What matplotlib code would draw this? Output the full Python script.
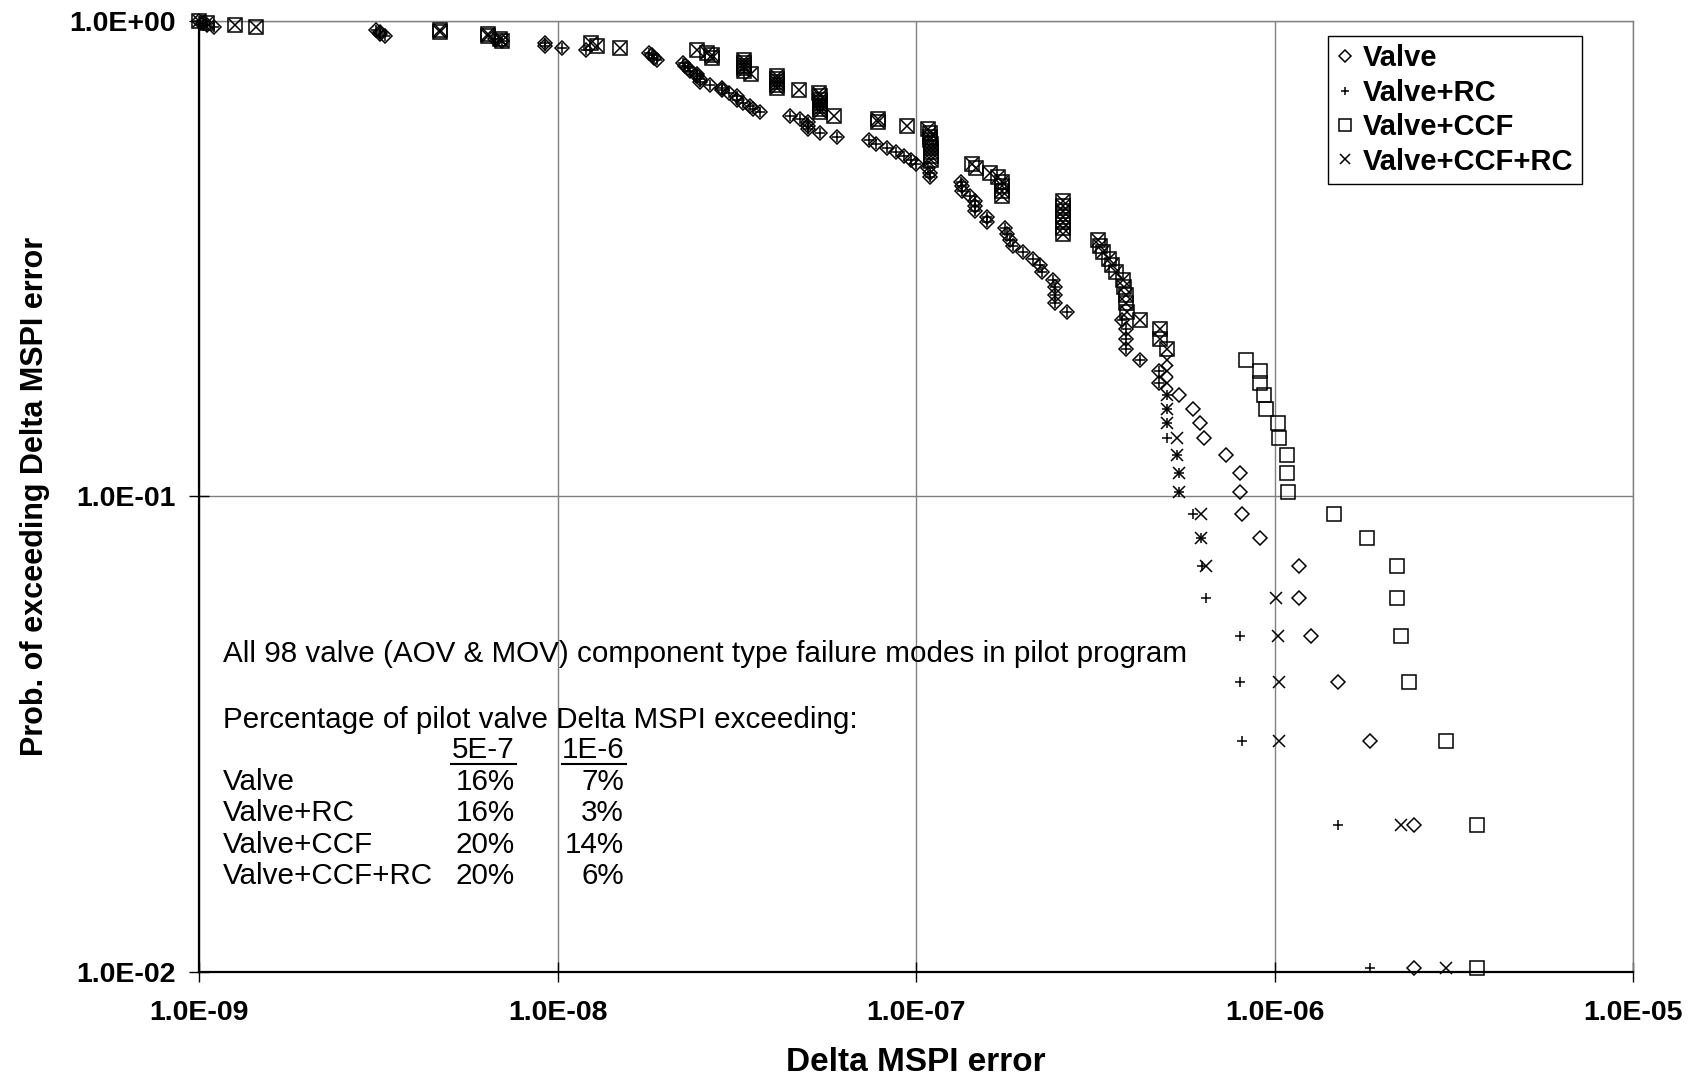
import numpy as np
import matplotlib
matplotlib.use('Agg')
import matplotlib.pyplot as plt
from matplotlib.ticker import NullLocator

plt.rcParams['font.family'] = ['Liberation Sans', 'DejaVu Sans']

# exceedance probability of each ranked point (rank 1 = largest error)
exceed_prob = [
    0.0102, 0.0204, 0.0306, 0.0408, 0.0510, 0.0612, 0.0714, 0.0816, 0.0918, 0.1020,
    0.1122, 0.1224, 0.1327, 0.1429, 0.1531, 0.1633, 0.1735, 0.1837, 0.1939, 0.2041,
    0.2143, 0.2245, 0.2347, 0.2449, 0.2551, 0.2653, 0.2755, 0.2857, 0.2959, 0.3061,
    0.3163, 0.3265, 0.3367, 0.3469, 0.3571, 0.3673, 0.3776, 0.3878, 0.3980, 0.4082,
    0.4184, 0.4286, 0.4388, 0.4490, 0.4592, 0.4694, 0.4796, 0.4898, 0.5000, 0.5102,
    0.5204, 0.5306, 0.5408, 0.5510, 0.5612, 0.5714, 0.5816, 0.5918, 0.6020, 0.6122,
    0.6224, 0.6327, 0.6429, 0.6531, 0.6633, 0.6735, 0.6837, 0.6939, 0.7041, 0.7143,
    0.7245, 0.7347, 0.7449, 0.7551, 0.7653, 0.7755, 0.7857, 0.7959, 0.8061, 0.8163,
    0.8265, 0.8367, 0.8469, 0.8571, 0.8673, 0.8776, 0.8878, 0.8980, 0.9082, 0.9184,
    0.9286, 0.9388, 0.9490, 0.9592, 0.9694, 0.9796, 0.9898, 1.0000]

# Delta MSPI error per rank
valve_x = [
    2.45e-6, 2.45e-6, 1.85e-6, 1.50e-6, 1.26e-6, 1.17e-6, 1.17e-6, 9.1e-7, 8.1e-7, 8.0e-7,
    8.0e-7, 7.3e-7, 6.35e-7, 6.2e-7, 5.9e-7, 5.4e-7, 4.75e-7, 4.75e-7, 4.2e-7, 3.84e-7,
    3.84e-7, 3.84e-7, 3.76e-7, 2.63e-7, 2.44e-7, 2.44e-7, 2.44e-7, 2.41e-7, 2.24e-7, 2.21e-7,
    2.12e-7, 1.99e-7, 1.86e-7, 1.83e-7, 1.79e-7, 1.77e-7, 1.58e-7, 1.58e-7, 1.46e-7, 1.46e-7,
    1.46e-7, 1.41e-7, 1.34e-7, 1.34e-7, 1.33e-7, 1.09e-7, 1.09e-7, 1.08e-7, 1.0e-7, 9.7e-8,
    9.25e-8, 8.8e-8, 8.3e-8, 7.7e-8, 7.4e-8, 6.0e-8, 5.4e-8, 5.0e-8, 5.0e-8, 5.0e-8,
    4.74e-8, 4.45e-8, 3.67e-8, 3.5e-8, 3.44e-8, 3.29e-8, 3.16e-8, 3.16e-8, 3.0e-8, 2.87e-8,
    2.87e-8, 2.66e-8, 2.49e-8, 2.49e-8, 2.45e-8, 2.44e-8, 2.34e-8, 2.31e-8, 2.27e-8, 2.23e-8,
    1.89e-8, 1.86e-8, 1.83e-8, 1.80e-8, 1.2e-8, 1.03e-8, 9.2e-9, 9.2e-9, 6.97e-9, 6.7e-9,
    3.3e-9, 3.2e-9, 3.2e-9, 3.1e-9, 1.1e-9, 1.05e-9, 1.02e-9, 1.0e-9]

# RC only moves the 19 largest points, the rest sit on the Valve ones
valve_rc_x = [
    1.85e-6, 1.50e-6, 8.13e-7, 8.0e-7, 8.0e-7, 6.42e-7, 6.26e-7, 6.25e-7, 5.9e-7, 5.42e-7,
    5.4e-7, 5.35e-7, 5.0e-7, 5.0e-7, 5.0e-7, 5.0e-7, 4.75e-7, 4.75e-7, 4.2e-7] + valve_x[19:]

valve_ccf_x = [
    3.68e-6, 3.68e-6, 3.0e-6, 2.37e-6, 2.25e-6, 2.2e-6, 2.2e-6, 1.81e-6, 1.46e-6, 1.09e-6,
    1.08e-6, 1.08e-6, 1.03e-6, 1.02e-6, 9.45e-7, 9.36e-7, 9.1e-7, 9.1e-7, 8.34e-7, 5.0e-7,
    4.79e-7, 4.79e-7, 4.2e-7, 3.87e-7, 3.85e-7, 3.85e-7, 3.8e-7, 3.78e-7, 3.6e-7, 3.51e-7,
    3.44e-7, 3.33e-7, 3.25e-7, 3.22e-7, 2.57e-7, 2.57e-7, 2.57e-7, 2.57e-7, 2.57e-7, 2.57e-7,
    2.57e-7, 1.74e-7, 1.73e-7, 1.73e-7, 1.73e-7, 1.69e-7, 1.61e-7, 1.47e-7, 1.43e-7, 1.1e-7,
    1.1e-7, 1.1e-7, 1.1e-7, 1.1e-7, 1.09e-7, 1.09e-7, 1.09e-7, 1.08e-7, 9.4e-8, 7.8e-8,
    7.8e-8, 5.9e-8, 5.4e-8, 5.4e-8, 5.4e-8, 5.4e-8, 5.4e-8, 5.4e-8, 5.35e-8, 4.7e-8,
    4.1e-8, 4.1e-8, 4.1e-8, 4.1e-8, 4.1e-8, 3.45e-8, 3.3e-8, 3.3e-8, 3.3e-8, 3.3e-8,
    3.3e-8, 2.7e-8, 2.69e-8, 2.6e-8, 2.44e-8, 1.49e-8, 1.29e-8, 1.24e-8, 6.97e-9, 6.9e-9,
    6.4e-9, 6.4e-9, 4.7e-9, 4.7e-9, 1.44e-9, 1.26e-9, 1.05e-9, 1.0e-9]

valve_ccf_rc_x = [
    3.0e-6, 2.25e-6, 1.03e-6, 1.03e-6, 1.02e-6, 1.01e-6, 6.44e-7, 6.25e-7, 6.25e-7, 5.42e-7,
    5.4e-7, 5.35e-7, 5.35e-7, 5.0e-7, 5.0e-7, 5.0e-7, 5.0e-7, 5.0e-7, 5.0e-7] + valve_ccf_x[19:]

x_ticks = [1e-9, 1e-8, 1e-7, 1e-6, 1e-5]
x_tick_labels = ['1.0E-09', '1.0E-08', '1.0E-07', '1.0E-06', '1.0E-05']
y_ticks = [1e-2, 1e-1, 1e0]
y_tick_labels = ['1.0E-02', '1.0E-01', '1.0E+00']

note_title = 'All 98 valve (AOV & MOV) component type failure modes in pilot program'
note_sub = 'Percentage of pilot valve Delta MSPI exceeding:'
thresholds = ['5E-7', '1E-6']
table_rows = ['Valve', 'Valve+RC', 'Valve+CCF', 'Valve+CCF+RC']
pct_5e7 = ['16%', '16%', '20%', '20%']
pct_1e6 = ['7%', '3%', '14%', '6%']

fig = plt.figure(figsize=(16.9, 10.77), dpi=100)
ax = fig.add_axes([0.118, 0.0975, 0.8483, 0.883])

ax.plot(valve_x, exceed_prob, ls='none', marker='D', ms=7.6, mfc='none', mec='black',
        mew=1.1, label='Valve', clip_on=False, zorder=3)
ax.plot(valve_rc_x, exceed_prob, ls='none', marker='+', ms=7.5, mec='black',
        mew=1.1, label='Valve+RC', clip_on=False, zorder=3)
ax.plot(valve_ccf_x, exceed_prob, ls='none', marker='s', ms=10.6, mfc='none', mec='black',
        mew=1.1, label='Valve+CCF', clip_on=False, zorder=3)
ax.plot(valve_ccf_rc_x, exceed_prob, ls='none', marker='x', ms=8, mec='black',
        mew=1.1, label='Valve+CCF+RC', clip_on=False, zorder=3)

ax.set_xscale('log')
ax.set_yscale('log')
ax.set_xlim(1e-9, 1e-5)
ax.set_ylim(1e-2, 1)
ax.set_xticks(x_ticks)
ax.set_xticklabels(x_tick_labels, fontsize=20.5, fontweight='bold')
ax.set_yticks(y_ticks)
ax.set_yticklabels(y_tick_labels, fontsize=20.5, fontweight='bold')
ax.xaxis.set_minor_locator(NullLocator())
ax.yaxis.set_minor_locator(NullLocator())
ax.tick_params(which='major', direction='inout', length=14, width=1.0, color='black')
ax.tick_params(axis='x', pad=13)
ax.tick_params(axis='y', pad=10)

ax.grid(True, which='major', color='#808080', lw=1.0)
ax.set_axisbelow(True)
for side in ['left', 'bottom']:
    ax.spines[side].set_color('black')
    ax.spines[side].set_linewidth(1.6)
for side in ['top', 'right']:
    ax.spines[side].set_color('#808080')
    ax.spines[side].set_linewidth(1.0)

ax.set_xlabel('Delta MSPI error', fontsize=24, fontweight='bold')
ax.xaxis.set_label_coords(0.5, -0.079)
ax.set_ylabel('Prob. of exceeding Delta MSPI error', fontsize=22, fontweight='bold')
ax.yaxis.set_label_coords(-0.104, 0.5)

leg = ax.legend(loc='upper right', bbox_to_anchor=(0.9644, 0.9846), borderaxespad=0,
                fancybox=False, edgecolor='black', framealpha=1,
                prop=dict(weight='bold', size=21), markerscale=0.85,
                handlelength=0.6, handletextpad=0.3, labelspacing=0.22, borderpad=0.3)
leg.get_frame().set_linewidth(1.0)

# text block inside the plot
tr = ax.transAxes
fs = 21.3
ax.text(0.0165, 0.3344, note_title, transform=tr, fontsize=fs, va='center')
ax.text(0.0165, 0.2650, note_sub, transform=tr, fontsize=fs, va='center')
ax.text(0.2201, 0.2334, thresholds[0], transform=tr, fontsize=fs, va='center', ha='right')
ax.text(0.2962, 0.2334, thresholds[1], transform=tr, fontsize=fs, va='center', ha='right')
ax.plot([0.1755, 0.2209], [0.2185, 0.2185], transform=tr, color='black', lw=1.5, clip_on=False)
ax.plot([0.2530, 0.2976], [0.2185, 0.2185], transform=tr, color='black', lw=1.5, clip_on=False)
row_y = [0.2003, 0.1676, 0.1335, 0.1009]
for name, a, b, yy in zip(table_rows, pct_5e7, pct_1e6, row_y):
    ax.text(0.0165, yy, name, transform=tr, fontsize=fs, va='center')
    ax.text(0.2201, yy, a, transform=tr, fontsize=fs, va='center', ha='right')
    ax.text(0.2962, yy, b, transform=tr, fontsize=fs, va='center', ha='right')

fig.savefig('out.png', dpi=100, facecolor='white')
